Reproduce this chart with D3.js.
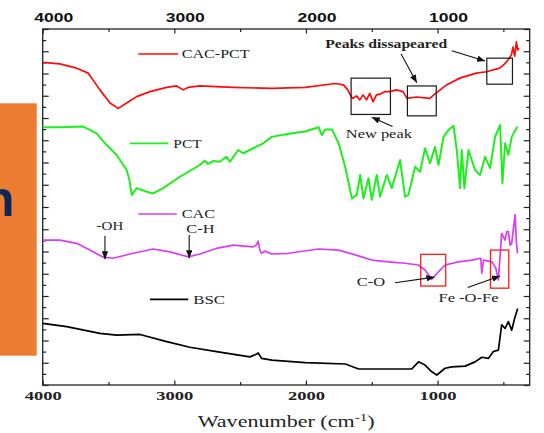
<!DOCTYPE html>
<html>
<head>
<meta charset="utf-8">
<script src="https://cdn.jsdelivr.net/npm/d3@7"></script>
<style>
body { margin: 0; background: white; }
svg { display: block; }
</style>
</head>
<body>
<div id="chart"></div>
<script>
const majorTicks = [4000, 3000, 2000, 1000];
const minorTicks = [3500, 2500, 1500, 500];

const cacPct = [[4000,90.6],[3869,90.2],[3742,89.0],[3654,87.6],[3565,82.9],[3489,79.2],[3426,77.7],[3362,79.2],[3286,81.0],[3185,82.4],[3058,83.6],[2983,84.0],[2932,82.9],[2897,83.6],[2806,84.0],[2553,83.6],[2259,83.3],[2006,83.6],[1778,84.7],[1715,84.3],[1682,82.9],[1654,80.9],[1642,80.5],[1616,81.2],[1591,80.1],[1566,81.5],[1540,80.1],[1515,81.9],[1490,79.6],[1464,81.5],[1439,81.7],[1401,82.4],[1363,82.4],[1312,82.9],[1262,82.4],[1232,80.5],[1160,80.9],[1059,80.5],[1021,81.7],[932,84.3],[831,86.2],[705,87.6],[629,88.0],[528,89.0],[490,90.2],[465,91.3],[439,92.7],[427,94.9],[414,92.4],[401,96.4],[391,94.1],[383,94.7]];

const pct = [[4000,72.4],[3869,72.4],[3692,72.6],[3590,70.7],[3514,67.4],[3438,64.6],[3362,60.4],[3341,57.6],[3324,53.4],[3286,55.3],[3210,54.3],[3160,53.8],[3084,55.3],[2957,58.5],[2806,61.8],[2768,63.0],[2743,62.1],[2705,62.9],[2654,62.7],[2603,64.1],[2578,62.7],[2515,66.0],[2477,65.1],[2401,66.5],[2325,67.9],[2259,69.7],[2107,70.7],[2006,71.2],[1904,72.4],[1879,70.2],[1854,71.8],[1803,71.8],[1752,67.9],[1702,61.3],[1651,52.4],[1614,53.4],[1588,59.0],[1563,52.4],[1525,58.1],[1500,52.0],[1462,59.0],[1437,52.9],[1386,59.0],[1348,55.3],[1285,63.2],[1247,52.9],[1221,53.4],[1171,61.3],[1133,59.9],[1095,66.5],[1057,62.3],[1019,66.9],[993,61.8],[955,69.7],[917,71.6],[879,72.8],[854,66.0],[829,55.3],[816,66.0],[796,55.3],[765,66.0],[715,60.4],[677,59.0],[639,64.1],[601,60.9],[563,69.7],[525,73.0],[507,56.7],[487,67.9],[462,64.6],[437,69.7],[393,72.6]];

const cac = [[4000,40.7],[3869,40.7],[3742,39.8],[3641,37.9],[3540,35.9],[3464,35.6],[3312,37.0],[3160,38.2],[3033,37.4],[2894,36.0],[2806,36.8],[2679,38.4],[2553,39.3],[2401,38.8],[2377,39.3],[2363,40.4],[2350,37.9],[2337,37.0],[2312,37.6],[2259,36.8],[2132,37.0],[1904,38.2],[1752,37.9],[1576,36.0],[1500,35.1],[1373,34.6],[1247,34.2],[1145,33.7],[1095,32.3],[1044,29.7],[993,31.8],[943,33.7],[841,34.6],[740,35.1],[672,35.6],[664,31.4],[651,35.1],[588,34.6],[558,32.9],[538,29.5],[513,42.6],[487,40.7],[475,43.0],[462,43.1],[449,39.3],[437,39.8],[411,47.8],[402,40.7],[393,37.0]];

const bsc = [[4000,17.3],[3818,16.4],[3565,14.5],[3438,14.0],[3261,14.2],[3058,12.2],[2882,10.6],[2679,9.4],[2426,7.9],[2373,8.7],[2363,9.0],[2337,7.5],[2259,7.0],[2006,6.3],[1700,5.9],[1600,4.5],[1247,4.5],[1196,4.5],[1145,6.5],[1095,5.6],[1044,3.7],[1006,2.8],[943,4.7],[892,5.1],[791,5.3],[715,6.5],[664,7.8],[613,7.5],[576,9.4],[538,9.8],[513,16.9],[487,15.9],[462,17.8],[437,15.4],[411,19.2],[391,21.5]];

const seriesNames = ["CAC-PCT", "PCT", "CAC", "BSC"];
const seriesData = [cacPct, pct, cac, bsc];

// regions marked on the spectra: [wn from, wn to, value low, value high]
const blackBoxes = [[1657, 1358, 76.0, 86.2], [1229, 1010, 75.6, 84.0], [626, 431, 84.5, 91.8]];
const redBoxes = [[1128, 938, 27.8, 36.7], [598, 459, 27.2, 37.9]];

const noteTexts = ["Peaks dissapeared", "New peak", "-OH", "C-H", "C-O", "Fe -O-Fe"];
const notePoints = [[1390, 94.8], [1446, 69.5], [3489, 43.5], [2801, 42.7], [1506, 27.9], [765, 23.2]];
const arrowPoints = [
    [1277, 93.0, 1158, 84.9],
    [892, 93.9, 639, 91.0],
    [1342, 72.6, 1500, 75.2],
    [3527, 41.9, 3527, 35.3],
    [2887, 42.1, 2887, 35.6],
    [1323, 28.7, 1024, 30.3],
    [771, 27.4, 525, 30.6]
];

const colors = ["#ff0a0a", "#1ef01e", "#d93cf5", "#000000"];
const noteWidths = [122, 66, 26.7, 28.3, 28.3, 60];
const noteBold = [true, false, false, false, false, false];
const legendLayout = [
    {x1: 138.3, x2: 178.3, y: 54, tx: 181.7, tw: 68},
    {x1: 130, x2: 168.3, y: 143.3, tx: 173.3, tw: 28.4},
    {x1: 138.3, x2: 176.7, y: 214, tx: 181.7, tw: 33.3},
    {x1: 150, x2: 188.3, y: 299.3, tx: 193.3, tw: 31.7}
];

const width = 544, height = 433;
const plotLeft = 42.7, plotRight = 529.7, plotTop = 29, plotBottom = 385;

const svg = d3.select("#chart").append("svg")
    .attr("width", width)
    .attr("height", height)
    .style("background", "white");

const x = d3.scaleLinear().domain([4000, 300]).range([plotLeft, plotRight]);
const y = d3.scaleLinear().domain([0, 100]).range([plotBottom, plotTop]);

const defs = svg.append("defs");
defs.append("marker")
    .attr("id", "arrow")
    .attr("viewBox", "0 0 10 8")
    .attr("refX", 10)
    .attr("refY", 4)
    .attr("markerWidth", 8)
    .attr("markerHeight", 6.4)
    .attr("markerUnits", "userSpaceOnUse")
    .attr("orient", "auto")
    .append("path")
    .attr("d", "M0,0L10,4L0,8z")
    .attr("fill", "#111");

// orange slide block on the left, cut off
svg.append("rect")
    .attr("x", 0).attr("y", 103.3)
    .attr("width", 36.7).attr("height", 252.4)
    .attr("fill", "#eb7c31");
svg.append("text")
    .attr("x", -16).attr("y", 216)
    .style("font-family", "Liberation Sans, Arial, sans-serif")
    .style("font-weight", "bold")
    .style("font-size", "50px")
    .attr("fill", "#0f2758")
    .text("n");

// axes
function styleAxis(g) {
    g.attr("color", "#222");
    g.select(".domain").remove();
    g.selectAll("line").attr("stroke-width", 1.2);
}

svg.append("g")
    .attr("transform", `translate(0,${plotBottom})`)
    .call(d3.axisBottom(x).tickValues(minorTicks).tickSize(-3).tickFormat(""))
    .call(styleAxis);
const bottomAxis = svg.append("g")
    .attr("transform", `translate(0,${plotBottom})`)
    .call(d3.axisBottom(x).tickValues(majorTicks).tickSize(-4.5).tickPadding(6.5).tickFormat(d3.format("d")))
    .call(styleAxis);
bottomAxis.selectAll("text")
    .style("font-family", "Liberation Serif, Times New Roman, serif")
    .style("font-weight", "bold")
    .style("font-size", "12px")
    .attr("fill", "#222")
    .attr("textLength", 37)
    .attr("lengthAdjust", "spacingAndGlyphs");

svg.append("g")
    .attr("transform", `translate(0,${plotTop})`)
    .call(d3.axisTop(x).tickValues(minorTicks).tickSize(-3).tickFormat(""))
    .call(styleAxis);
const topAxis = svg.append("g")
    .attr("transform", `translate(0,${plotTop})`)
    .call(d3.axisTop(x).tickValues(majorTicks).tickSize(-4.5).tickPadding(7).tickFormat(d3.format("d")))
    .call(styleAxis);
topAxis.selectAll("text")
    .attr("x", 10.5)
    .style("font-family", "Liberation Sans, Arial, sans-serif")
    .style("font-weight", "bold")
    .style("font-size", "12px")
    .attr("fill", "#111")
    .attr("textLength", 39)
    .attr("lengthAdjust", "spacingAndGlyphs");

const yTicks = d3.range(0, 33).map(i => i * 100 / 32);
const yMajor = yTicks.filter((d, i) => i % 2 == 0);
const yMinor = yTicks.filter((d, i) => i % 2 == 1);
for(const side of ["left", "right"]) {
    const pos = side == "left" ? plotLeft : plotRight;
    const make = side == "left" ? d3.axisLeft : d3.axisRight;
    svg.append("g")
        .attr("transform", `translate(${pos},0)`)
        .call(make(y).tickValues(yMajor).tickSize(-6).tickFormat(""))
        .call(styleAxis);
    svg.append("g")
        .attr("transform", `translate(${pos},0)`)
        .call(make(y).tickValues(yMinor).tickSize(-3.5).tickFormat(""))
        .call(styleAxis);
}

svg.append("rect")
    .attr("x", plotLeft).attr("y", plotTop)
    .attr("width", plotRight - plotLeft).attr("height", plotBottom - plotTop)
    .attr("fill", "none")
    .attr("stroke", "#222")
    .attr("stroke-width", 1.3);

// spectra
const line = d3.line()
    .x(d => x(d[0]))
    .y(d => y(d[1]));

svg.append("g").selectAll("path")
    .data(seriesData)
    .join("path")
    .attr("d", line)
    .attr("fill", "none")
    .attr("stroke", (d, i) => colors[i])
    .attr("stroke-width", (d, i) => i == 1 ? 2 : 1.7)
    .attr("stroke-linejoin", "round");

// legend
const legend = svg.append("g");
legendLayout.forEach((l, i) => {
    legend.append("line")
        .attr("x1", l.x1).attr("x2", l.x2)
        .attr("y1", l.y).attr("y2", l.y)
        .attr("stroke", colors[i])
        .attr("stroke-width", 1.7);
    legend.append("text")
        .attr("x", l.tx).attr("y", l.y + 4.3)
        .style("font-family", "Liberation Serif, Times New Roman, serif")
        .style("font-size", "12.5px")
        .attr("fill", "#222")
        .attr("textLength", l.tw)
        .attr("lengthAdjust", "spacingAndGlyphs")
        .text(seriesNames[i]);
});

// boxes
const boxGroup = svg.append("g").attr("fill", "none");
boxGroup.selectAll(".bbox")
    .data(blackBoxes)
    .join("rect")
    .attr("x", d => x(d[0]))
    .attr("y", d => y(d[3]))
    .attr("width", d => x(d[1]) - x(d[0]))
    .attr("height", d => y(d[2]) - y(d[3]))
    .attr("stroke", "#1a1a1a")
    .attr("stroke-width", 1.2);
boxGroup.selectAll(".rbox")
    .data(redBoxes)
    .join("rect")
    .attr("x", d => x(d[0]))
    .attr("y", d => y(d[3]))
    .attr("width", d => x(d[1]) - x(d[0]))
    .attr("height", d => y(d[2]) - y(d[3]))
    .attr("stroke", "#ff1a1a")
    .attr("stroke-width", 1.3);

// arrows and notes
svg.append("g").selectAll("line")
    .data(arrowPoints)
    .join("line")
    .attr("x1", d => x(d[0])).attr("y1", d => y(d[1]))
    .attr("x2", d => x(d[2])).attr("y2", d => y(d[3]))
    .attr("stroke", "#111")
    .attr("stroke-width", 1.1)
    .attr("marker-end", "url(#arrow)");

svg.append("g").selectAll("text")
    .data(noteTexts)
    .join("text")
    .attr("x", (d, i) => x(notePoints[i][0]))
    .attr("y", (d, i) => y(notePoints[i][1]))
    .attr("text-anchor", "middle")
    .style("font-family", "Liberation Serif, Times New Roman, serif")
    .style("font-size", "12.5px")
    .style("font-weight", (d, i) => noteBold[i] ? "bold" : "normal")
    .attr("fill", "#222")
    .attr("textLength", (d, i) => noteWidths[i])
    .attr("lengthAdjust", "spacingAndGlyphs")
    .text(d => d);

// axis title
const title = svg.append("g")
    .attr("transform", `translate(${(plotLeft + plotRight) / 2},426.7) scale(1.38,1)`)
    .append("text")
    .attr("text-anchor", "middle")
    .style("font-family", "Liberation Serif, Times New Roman, serif")
    .style("font-size", "16px")
    .attr("fill", "#222");
title.append("tspan").text("Wavenumber (cm");
title.append("tspan").attr("dy", -6).style("font-size", "11px").text("-1");
title.append("tspan").attr("dy", 6).text(")");
</script>
</body>
</html>
